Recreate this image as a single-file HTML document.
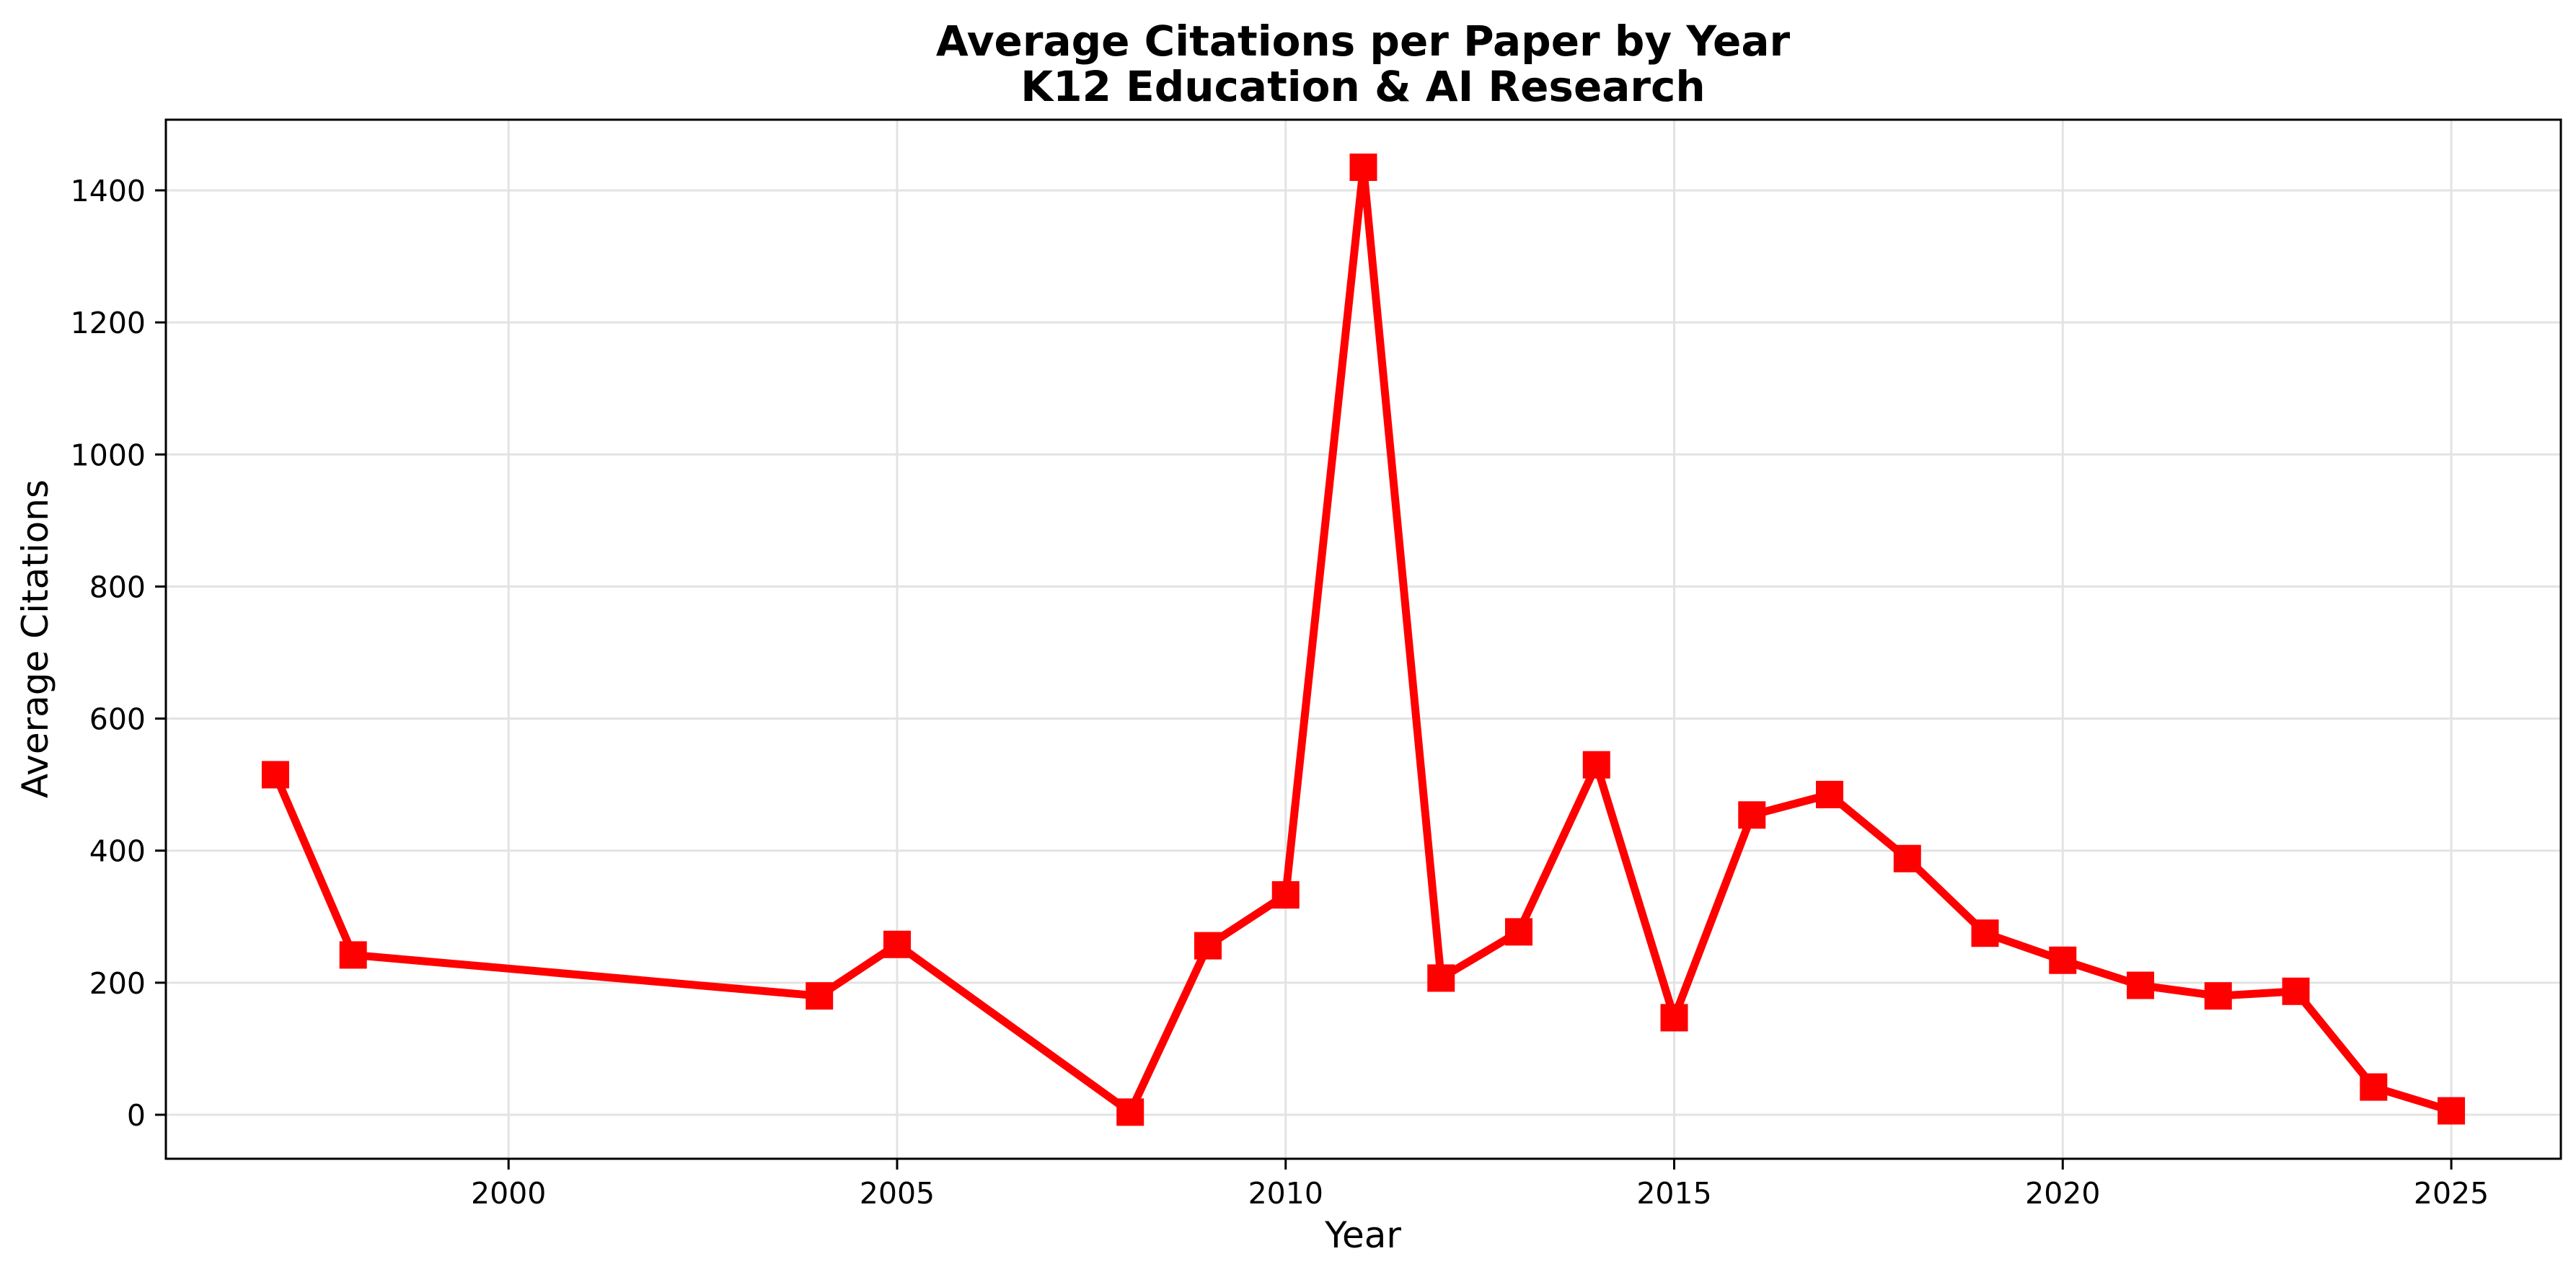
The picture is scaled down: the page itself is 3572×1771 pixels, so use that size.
<!DOCTYPE html>
<html><head><meta charset="utf-8"><style>
html,body{margin:0;padding:0;background:#fff;}
svg{display:block;font-family:"DejaVu Sans","Liberation Sans",sans-serif;}
</style></head><body>
<svg id="chart" width="3572" height="1771" xmlns="http://www.w3.org/2000/svg">
<rect width="3572" height="1771" fill="#fff"/>
<text x="1890" y="77" font-size="58" font-weight="bold" text-anchor="middle">Average Citations per Paper by Year</text>
<text x="1890" y="140" font-size="58" font-weight="bold" text-anchor="middle">K12 Education &amp; AI Research</text>
<g id="grid"></g>
<g id="ticks"></g>
<g id="series"></g>
<rect x="230" y="166" width="3321" height="1441" fill="none" stroke="#000" stroke-width="3"/>
<text x="1890" y="1730" font-size="50" text-anchor="middle">Year</text>
<text transform="translate(66,886) rotate(-90)" font-size="50" text-anchor="middle">Average Citations</text>
</svg>
<script>
const years = [1997,1998,2004,2005,2008,2009,2010,2011,2012,2013,2014,2015,2016,2017,2018,2019,2020,2021,2022,2023,2024,2025];
const citations = [515,242,180,258,4,256,333,1435,207,277,530,147,454,485,388,275,234,196,180,187,42,6];
const xTicks = [2000,2005,2010,2015,2020,2025];
const yTicks = [0,200,400,600,800,1000,1200,1400];

const L=230,R=3551,T=166,B=1607;
const xMin=1995.59,xMax=2026.41,yMin=-66.6,yMax=1507;
function sx(v){return L+(v-xMin)/(xMax-xMin)*(R-L);}
function sy(v){return B-(v-yMin)/(yMax-yMin)*(B-T);}
const NS='http://www.w3.org/2000/svg';
function mk(tag,attrs,parent){const e=document.createElementNS(NS,tag);for(const k in attrs)e.setAttribute(k,attrs[k]);parent.appendChild(e);return e;}
const grid=document.getElementById('grid'),ticks=document.getElementById('ticks'),series=document.getElementById('series');

xTicks.forEach(t=>{
  const x=sx(t);
  const g=mk('line',{x1:x,x2:x,y1:T,y2:B,stroke:'#e3e3e3','stroke-width':3},grid);
  
  
  const tk=mk('line',{x1:x,x2:x,y1:B,y2:B+15,stroke:'#000','stroke-width':3},ticks);
  
  
  const tx=mk('text',{x:x,y:B+62,'font-size':41,'text-anchor':'middle'},ticks);
  tx.textContent=t;
  
  
});
yTicks.forEach(t=>{
  const y=sy(t);
  const g=mk('line',{x1:L,x2:R,y1:y,y2:y,stroke:'#e3e3e3','stroke-width':3},grid);
  
  
  const tk=mk('line',{x1:L-15,x2:L,y1:y,y2:y,stroke:'#000','stroke-width':3},ticks);
  
  
  const tx=mk('text',{x:L-28,y:y+15,'font-size':41,'text-anchor':'end'},ticks);
  tx.textContent=t;
  
  
});

const pts=years.map((y,i)=>sx(y)+','+sy(citations[i])).join(' ');
const line=mk('polyline',{points:pts,fill:'none',stroke:'#ff0000','stroke-width':11,'stroke-linejoin':'round','stroke-linecap':'round'},series);


years.forEach((y,i)=>{
  const m=mk('rect',{x:sx(y)-19,y:sy(citations[i])-19,width:38,height:38,fill:'#ff0000'},series);
  
  
});
</script>
</body></html>
